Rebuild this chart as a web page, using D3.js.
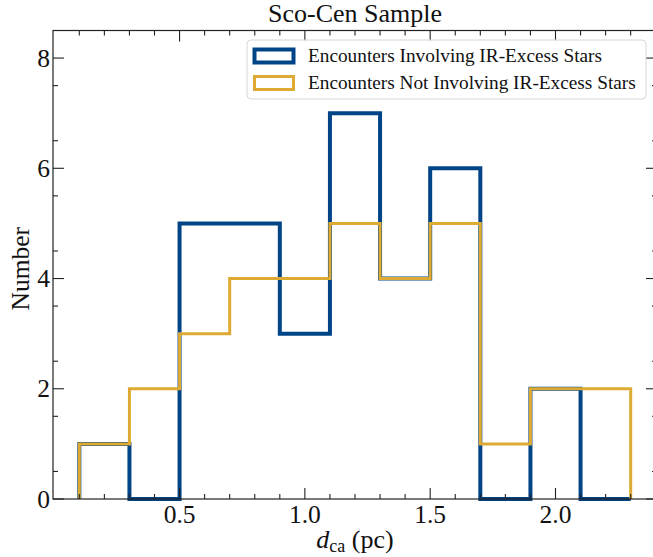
<!DOCTYPE html>
<html>
<head>
<meta charset="utf-8">
<script src="https://cdn.jsdelivr.net/npm/d3@7"></script>
<style>
  body { margin: 0; background: #fff; }
  svg { display: block; font-family: "Liberation Serif", "DejaVu Serif", serif; }
</style>
</head>
<body>
<svg id="chart" width="653" height="557"></svg>
<script>
// histogram bins (pc) and counts
const binEdges = [0.1, 0.3, 0.5, 0.7, 0.9, 1.1, 1.3, 1.5, 1.7, 1.9, 2.1, 2.3];
const irExcess = [1, 0, 5, 5, 3, 7, 4, 6, 0, 2, 0];
const noIrExcess = [1, 2, 3, 4, 4, 5, 4, 5, 1, 2, 2];
const seriesNames = ["Encounters Involving IR-Excess Stars", "Encounters Not Involving IR-Excess Stars"];
const xMajor = [0.5, 1.0, 1.5, 2.0];
const yMajor = [0, 2, 4, 6, 8];

const svg = d3.select("#chart");
const margin = { left: 53, right: -4, top: 30.5, bottom: 58 };
const W = 653, H = 557;

const x = d3.scaleLinear().domain([-0.005, 2.405]).range([margin.left, W - margin.right]);
const y = d3.scaleLinear().domain([0, 8.5]).range([H - margin.bottom, margin.top]);

const colors = ["#004488", "#DDAA33"];
const widths = [4, 3];

// step outline like matplotlib histtype='step'
function stepPath(counts) {
  const pts = [[binEdges[0], 0]];
  counts.forEach((c, i) => {
    pts.push([binEdges[i], c]);
    pts.push([binEdges[i + 1], c]);
  });
  pts.push([binEdges[binEdges.length - 1], 0]);
  return d3.line().x(d => x(d[0])).y(d => y(d[1]))(pts);
}

[irExcess, noIrExcess].forEach((s, i) => {
  svg.append("path")
    .attr("d", stepPath(s))
    .attr("fill", "none")
    .attr("stroke", colors[i])
    .attr("stroke-width", widths[i])
    .attr("stroke-linejoin", "miter");
});

// axes frame
const x0 = x.range()[0], x1 = x.range()[1], y0 = y.range()[0], y1 = y.range()[1];
svg.append("rect")
  .attr("x", x0).attr("y", y1)
  .attr("width", x1 - x0).attr("height", y0 - y1)
  .attr("fill", "none").attr("stroke", "#222").attr("stroke-width", 1.2);

const majorLen = 11, minorLen = 5;
const tickG = svg.append("g").attr("stroke", "#222").attr("stroke-width", 1.1);

// x ticks (major + minor every 0.1), inward on bottom and top
const xMinor = d3.range(1, 25).map(d => d / 10).filter(v => !xMajor.some(m => Math.abs(m - v) < 1e-6));
xMinor.forEach(v => {
  tickG.append("line").attr("x1", x(v)).attr("x2", x(v)).attr("y1", y0).attr("y2", y0 - minorLen);
  tickG.append("line").attr("x1", x(v)).attr("x2", x(v)).attr("y1", y1).attr("y2", y1 + minorLen);
});
xMajor.forEach(v => {
  tickG.append("line").attr("x1", x(v)).attr("x2", x(v)).attr("y1", y0).attr("y2", y0 - majorLen);
  tickG.append("line").attr("x1", x(v)).attr("x2", x(v)).attr("y1", y1).attr("y2", y1 + majorLen);
});

// y ticks (major + minor every 0.5), inward on left and right
const yMinor = d3.range(1, 17, 2).map(d => d / 2);
yMinor.forEach(v => {
  tickG.append("line").attr("x1", x0).attr("x2", x0 + minorLen).attr("y1", y(v)).attr("y2", y(v));
  tickG.append("line").attr("x1", x1).attr("x2", x1 - minorLen).attr("y1", y(v)).attr("y2", y(v));
});
yMajor.forEach(v => {
  tickG.append("line").attr("x1", x0).attr("x2", x0 + majorLen).attr("y1", y(v)).attr("y2", y(v));
  tickG.append("line").attr("x1", x1).attr("x2", x1 - majorLen).attr("y1", y(v)).attr("y2", y(v));
});

// tick labels
svg.append("g").selectAll("text").data(xMajor).join("text")
  .attr("x", d => x(d)).attr("y", y0 + 24)
  .attr("text-anchor", "middle").attr("font-size", 25.5).attr("fill", "#111")
  .text(d => d.toFixed(1));

svg.append("g").selectAll("text").data(yMajor).join("text")
  .attr("x", x0 - 3).attr("y", d => y(d) + 8.5)
  .attr("text-anchor", "end").attr("font-size", 25.5).attr("fill", "#111")
  .text(d => d);

// axis labels and title
const xl = svg.append("text")
  .attr("x", (x0 + x1) / 2).attr("y", 548)
  .attr("text-anchor", "middle").attr("font-size", 26).attr("fill", "#111");
xl.append("tspan").attr("font-style", "italic").text("d");
xl.append("tspan").attr("font-size", 18).attr("dy", 4).text("ca");
xl.append("tspan").attr("dy", -4).text(" (pc)");

svg.append("text")
  .attr("transform", `translate(29,${(y0 + y1) / 2 + 4}) rotate(-90)`)
  .attr("text-anchor", "middle").attr("font-size", 25.5).attr("fill", "#111")
  .text("Number");

svg.append("text")
  .attr("x", (x0 + x1) / 2).attr("y", 22)
  .attr("text-anchor", "middle").attr("font-size", 26).attr("fill", "#111")
  .text("Sco-Cen Sample");

// legend
const lg = svg.append("g").attr("transform", "translate(247,40)");
lg.append("rect")
  .attr("width", 399).attr("height", 59).attr("rx", 4)
  .attr("fill", "#fff").attr("fill-opacity", 0.85)
  .attr("stroke", "#d6d6d6").attr("stroke-width", 1);
seriesNames.forEach((name, i) => {
  lg.append("rect")
    .attr("x", 7.5).attr("y", 9.5 + i * 27).attr("width", 39).attr("height", 13)
    .attr("fill", "none").attr("stroke", colors[i]).attr("stroke-width", widths[i]);
  lg.append("text")
    .attr("x", 61).attr("y", 22 + i * 27)
    .attr("font-size", 19.3).attr("fill", "#111")
    .text(name);
});
</script>
</body>
</html>
